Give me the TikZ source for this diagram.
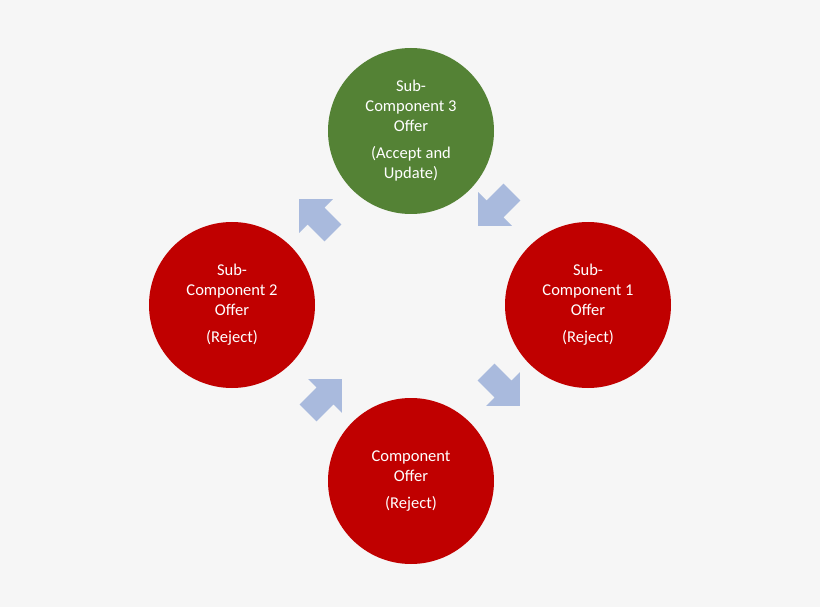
\documentclass[tikz,border=0pt]{standalone}
\usepackage{fontspec}
\setmainfont{Carlito}
\definecolor{bg}{HTML}{F6F6F6}
\definecolor{gr}{HTML}{548235}
\definecolor{rd}{HTML}{C00000}
\definecolor{ar}{HTML}{A9BADD}
\begin{document}
\begin{tikzpicture}[x=1pt,y=-1pt,
  circ/.style={circle,minimum size=166pt,inner sep=0pt,text=white,align=center,font=\fontsize{16.5}{20}\selectfont},
  blk/.style={fill=ar}]
\fill[bg] (0,0) rectangle (820,607);
\node[circ,fill=gr] (top) at (411,131) {Sub-\\Component 3\\Offer\\[7pt](Accept and\\Update)};
\node[circ,fill=rd] (right) at (588,305) {Sub-\\Component 1\\Offer\\[7pt](Reject)};
\node[circ,fill=rd] (bot) at (411,481) {Component\\Offer\\[7pt](Reject)};
\node[circ,fill=rd] (left) at (232,305) {Sub-\\Component 2\\Offer\\[7pt](Reject)};
\foreach \p/\r in {{(316,216)}/135,{(495,209)}/-135,{(503,389)}/-45,{(325,396)}/45}{
  \fill[blk,shift={\p},rotate=\r] (-24,-12) -- (0,-12) -- (0,-24) -- (24,0) -- (0,24) -- (0,12) -- (-24,12) -- cycle;
}
\end{tikzpicture}
\end{document}
